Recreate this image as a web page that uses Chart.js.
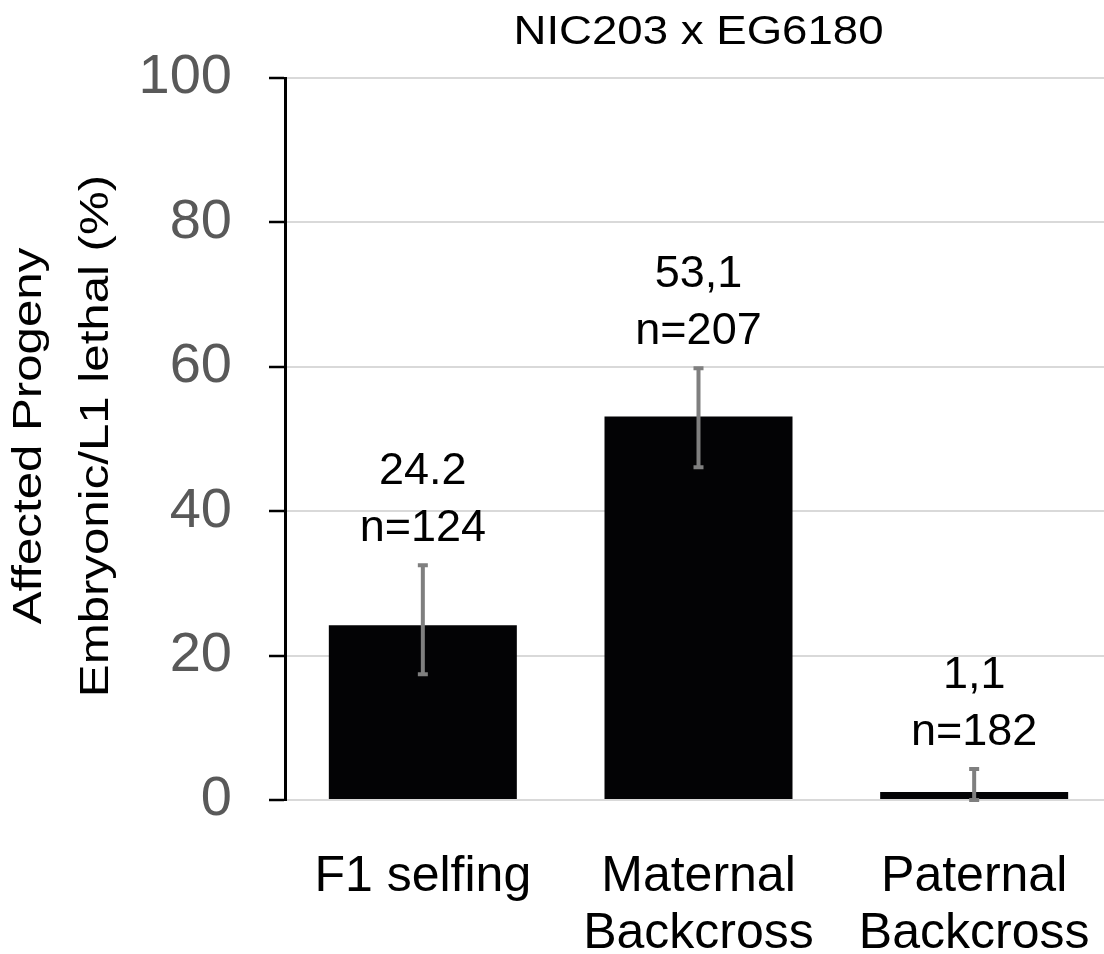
<!DOCTYPE html>
<html>
<head>
<meta charset="utf-8">
<script src="https://cdn.jsdelivr.net/npm/chart.js@4.4.0/dist/chart.umd.min.js"></script>
<style>
  html, body { margin: 0; padding: 0; background: #fff; overflow: hidden; }
  #wrap { width: 1112px; height: 954px; }
</style>
</head>
<body>
<div id="wrap"><canvas id="myChart" width="1112" height="954"></canvas></div>
<script>
// dados do gráfico
const categories = [['F1 selfing'], ['Maternal', 'Backcross'], ['Paternal', 'Backcross']];
const values = [24.2, 53.1, 1.1];
const errLow = [17.4, 46.1, 0];
const errHigh = [32.5, 59.8, 4.3];
const valueLabels = ['24.2', '53,1', '1,1'];
const nLabels = ['n=124', 'n=207', 'n=182'];
const yTicks = [0, 20, 40, 60, 80, 100];
const chartTitle = 'NIC203 x EG6180';
const yTitle = ['Affected Progeny', 'Embryonic/L1 lethal (%)'];

const FONT = 'Arial, "Liberation Sans", sans-serif';

// barras de erro (cinza)
const errorBars = {
    id: 'errorBars',
    afterDatasetsDraw(chart) {
        const ctx = chart.ctx;
        const y = chart.scales.y;
        const meta = chart.getDatasetMeta(0);
        ctx.save();
        ctx.strokeStyle = '#7f7f7f';
        ctx.lineWidth = 4;
        meta.data.forEach((bar, i) => {
            const top = y.getPixelForValue(errHigh[i]);
            const bot = y.getPixelForValue(errLow[i]);
            ctx.beginPath();
            ctx.moveTo(bar.x, top); ctx.lineTo(bar.x, bot);
            ctx.moveTo(bar.x - 5, top); ctx.lineTo(bar.x + 5, top);
            ctx.moveTo(bar.x - 5, bot); ctx.lineTo(bar.x + 5, bot);
            ctx.stroke();
        });
        ctx.restore();
    }
};

// rótulos acima das barras
const barLabels = {
    id: 'barLabels',
    afterDatasetsDraw(chart) {
        const ctx = chart.ctx;
        const y = chart.scales.y;
        const meta = chart.getDatasetMeta(0);
        ctx.save();
        ctx.fillStyle = '#000';
        ctx.font = '45px ' + FONT;
        ctx.textAlign = 'center';
        ctx.textBaseline = 'alphabetic';
        meta.data.forEach((bar, i) => {
            const top = y.getPixelForValue(errHigh[i]);
            ctx.fillText(nLabels[i], bar.x, top - 24);
            ctx.fillText(valueLabels[i], bar.x, top - 24 - 57);
        });
        ctx.restore();
    }
};

// títulos (texto um pouco esticado, como no original)
const titles = {
    id: 'titles',
    afterDraw(chart) {
        const ctx = chart.ctx;
        const area = chart.chartArea;
        ctx.save();
        ctx.fillStyle = '#000';
        ctx.font = '40px ' + FONT;
        ctx.textAlign = 'center';
        ctx.textBaseline = 'middle';
        ctx.translate((area.left + area.right) / 2, 33);
        ctx.scale(1.14, 1);
        ctx.fillText(chartTitle, 0, 0);
        ctx.restore();

        ctx.save();
        ctx.fillStyle = '#000';
        ctx.font = '40px ' + FONT;
        ctx.textAlign = 'center';
        ctx.textBaseline = 'middle';
        const cy = (area.top + area.bottom) / 2 - 3;
        [30, 97].forEach((x, i) => {
            ctx.save();
            ctx.translate(x, cy);
            ctx.rotate(-Math.PI / 2);
            ctx.scale(1.23, 1);
            ctx.fillText(yTitle[i], 0, 0);
            ctx.restore();
        });
        ctx.restore();
    }
};

const ctx = document.getElementById('myChart').getContext('2d');
const myChart = new Chart(ctx, {
    type: 'bar',
    data: {
        labels: categories,
        datasets: [{
            data: values,
            backgroundColor: '#030305',
            borderWidth: 0,
            barPercentage: 0.682,
            categoryPercentage: 1
        }]
    },
    options: {
        responsive: false,
        animation: false,
        devicePixelRatio: 1,
        layout: { padding: { top: 78, left: 0, right: 0, bottom: 0 } },
        plugins: {
            legend: { display: false },
            tooltip: { enabled: false },
            title: { display: false }
        },
        scales: {
            x: {
                grid: { display: false, drawTicks: false },
                border: { display: false },
                ticks: {
                    color: '#000',
                    font: { family: FONT, size: 50, lineHeight: 1.15 },
                    padding: 48,
                    maxRotation: 0,
                    autoSkip: false
                },
                afterFit(scale) {
                    scale.height = 154;
                    scale.paddingLeft = 0;
                    scale.paddingRight = 0;
                }
            },
            y: {
                min: 0,
                max: 100,
                afterBuildTicks(scale) {
                    scale.ticks = yTicks.map(v => ({ value: v }));
                },
                grid: {
                    color: '#d9d9d9',
                    lineWidth: 2,
                    tickColor: '#000',
                    tickLength: 16,
                    tickWidth: 2.5
                },
                border: { color: '#000', width: 3 },
                ticks: {
                    color: '#595959',
                    font: { family: FONT, size: 56 },
                    padding: 37
                },
                afterFit(scale) {
                    scale.width = 285;
                    scale.paddingTop = 0;
                    scale.paddingBottom = 0;
                }
            }
        }
    },
    plugins: [errorBars, barLabels, titles]
});
</script>
</body>
</html>
